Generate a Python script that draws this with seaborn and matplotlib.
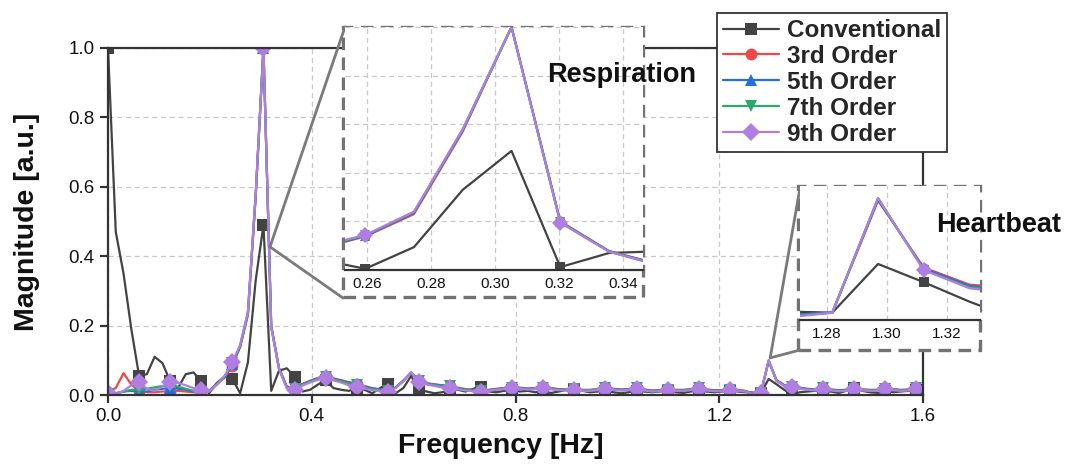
import numpy as np
import pandas as pd
import matplotlib
matplotlib.use("Agg")
import matplotlib.pyplot as plt
from matplotlib.patches import Rectangle, ConnectionPatch
import seaborn as sns

# ---------------------------------------------------------------------------
# Data
# ---------------------------------------------------------------------------

FREQ_STEP = 0.015259  # Hz per FFT bin
N_BINS = 106

conventional = [
    1.0, 0.47, 0.35, 0.19, 0.055, 0.06, 0.11, 0.092, 0.04, 0.02,
    0.06, 0.065, 0.04, 0.005, 0.035, 0.053, 0.046, 0.005, 0.094, 0.33,
    0.49, 0.012, 0.07, 0.077, 0.053, 0.01, 0.015, 0.03, 0.043, 0.02,
    0.015, 0.012, 0.02, 0.015, 0.005, 0.02, 0.032, 0.005, 0.02, 0.055,
    0.015, 0.01, 0.005, 0.008, 0.012, 0.015, 0.01, 0.018, 0.024, 0.01,
    0.008, 0.012, 0.015, 0.01, 0.012, 0.008, 0.01, 0.006, 0.01, 0.015,
    0.018, 0.012, 0.008, 0.01, 0.012, 0.008, 0.005, 0.008, 0.012, 0.01,
    0.008, 0.01, 0.012, 0.008, 0.006, 0.01, 0.012, 0.01, 0.008, 0.01,
    0.012, 0.01, 0.008, 0.007, 0.006, 0.046, 0.031, 0.015, 0.001, 0.008,
    0.01, 0.012, 0.008, 0.01, 0.006, 0.012, 0.02, 0.012, 0.008, 0.006,
    0.012, 0.008, 0.01, 0.012, 0.015, 0.012,
]
order3 = [
    0.01, 0.02, 0.063, 0.03, 0.012, 0.008, 0.008, 0.01, 0.01, 0.012,
    0.01, 0.008, 0.008, 0.012, 0.032, 0.05, 0.085, 0.138, 0.23, 0.57,
    1.0, 0.2, 0.078, 0.025, 0.018, 0.032, 0.041, 0.049, 0.054, 0.048,
    0.043, 0.037, 0.033, 0.026, 0.02, 0.016, 0.013, 0.022, 0.042, 0.064,
    0.04, 0.034, 0.031, 0.028, 0.027, 0.021, 0.017, 0.015, 0.014, 0.015,
    0.018, 0.02, 0.023, 0.021, 0.019, 0.02, 0.023, 0.02, 0.017, 0.016,
    0.018, 0.015, 0.015, 0.017, 0.022, 0.018, 0.016, 0.017, 0.021, 0.016,
    0.013, 0.014, 0.016, 0.015, 0.015, 0.017, 0.021, 0.016, 0.014, 0.014,
    0.017, 0.015, 0.012, 0.004, 0.006, 0.098, 0.043, 0.029, 0.026, 0.021,
    0.018, 0.016, 0.021, 0.016, 0.014, 0.015, 0.02, 0.016, 0.015, 0.015,
    0.02, 0.017, 0.015, 0.016, 0.021, 0.018,
]
order5 = [
    0.002, 0.005, 0.01, 0.012, 0.01, 0.01, 0.015, 0.018, 0.02, 0.018,
    0.015, 0.01, 0.008, 0.011, 0.031, 0.052, 0.088, 0.14, 0.235, 0.575,
    1.0, 0.198, 0.077, 0.023, 0.017, 0.031, 0.04, 0.048, 0.055, 0.047,
    0.041, 0.035, 0.031, 0.024, 0.019, 0.015, 0.012, 0.021, 0.041, 0.065,
    0.04, 0.033, 0.03, 0.027, 0.027, 0.02, 0.016, 0.014, 0.013, 0.014,
    0.017, 0.019, 0.022, 0.02, 0.018, 0.019, 0.022, 0.019, 0.016, 0.015,
    0.017, 0.014, 0.014, 0.016, 0.021, 0.017, 0.015, 0.016, 0.02, 0.015,
    0.012, 0.013, 0.015, 0.014, 0.014, 0.016, 0.02, 0.015, 0.013, 0.013,
    0.016, 0.014, 0.011, 0.004, 0.006, 0.099, 0.042, 0.028, 0.025, 0.02,
    0.017, 0.015, 0.02, 0.015, 0.013, 0.014, 0.019, 0.015, 0.014, 0.014,
    0.019, 0.016, 0.014, 0.015, 0.02, 0.017,
]
order7 = [
    0.003, 0.005, 0.01, 0.015, 0.015, 0.018, 0.022, 0.026, 0.027, 0.024,
    0.018, 0.012, 0.01, 0.01, 0.03, 0.054, 0.092, 0.142, 0.238, 0.578,
    1.0, 0.196, 0.076, 0.021, 0.016, 0.03, 0.039, 0.047, 0.053, 0.046,
    0.04, 0.033, 0.029, 0.022, 0.017, 0.014, 0.011, 0.021, 0.04, 0.065,
    0.039, 0.032, 0.029, 0.025, 0.025, 0.019, 0.015, 0.013, 0.012, 0.013,
    0.016, 0.018, 0.021, 0.019, 0.017, 0.018, 0.021, 0.018, 0.015, 0.014,
    0.016, 0.013, 0.013, 0.015, 0.02, 0.016, 0.014, 0.015, 0.019, 0.014,
    0.011, 0.012, 0.014, 0.013, 0.013, 0.015, 0.019, 0.014, 0.012, 0.012,
    0.015, 0.013, 0.011, 0.003, 0.006, 0.1, 0.041, 0.027, 0.024, 0.019,
    0.016, 0.014, 0.019, 0.014, 0.012, 0.013, 0.018, 0.014, 0.013, 0.013,
    0.018, 0.015, 0.013, 0.014, 0.019, 0.016,
]
order9 = [
    0.005, 0.002, 0.012, 0.028, 0.038, 0.018, 0.012, 0.025, 0.038, 0.035,
    0.028, 0.02, 0.013, 0.01, 0.03, 0.055, 0.095, 0.144, 0.24, 0.58,
    1.0, 0.195, 0.075, 0.02, 0.014, 0.027, 0.036, 0.044, 0.05, 0.042,
    0.036, 0.028, 0.022, 0.018, 0.014, 0.012, 0.01, 0.02, 0.04, 0.065,
    0.037, 0.03, 0.026, 0.022, 0.02, 0.016, 0.013, 0.011, 0.01, 0.012,
    0.015, 0.017, 0.019, 0.017, 0.016, 0.017, 0.019, 0.016, 0.014, 0.013,
    0.014, 0.012, 0.012, 0.014, 0.018, 0.015, 0.013, 0.014, 0.017, 0.013,
    0.01, 0.011, 0.013, 0.012, 0.012, 0.014, 0.017, 0.013, 0.011, 0.011,
    0.014, 0.012, 0.01, 0.002, 0.006, 0.1, 0.041, 0.026, 0.022, 0.018,
    0.015, 0.013, 0.017, 0.013, 0.011, 0.012, 0.016, 0.013, 0.012, 0.012,
    0.016, 0.014, 0.012, 0.013, 0.017, 0.015,
]

series_labels = ["Conventional", "3rd Order", "5th Order", "7th Order", "9th Order"]
series_values = [conventional, order3, order5, order7, order9]
series_colors = ["#434343", "#f04848", "#2170e0", "#2ca86a", "#b07ee2"]
series_markers = ["s", "o", "^", "v", "D"]
series_msize = [8.0, 8.5, 8.5, 8.5, 9.5]

freq = np.arange(N_BINS) * FREQ_STEP
df = pd.DataFrame({"freq": np.tile(freq, len(series_labels)),
                   "mag": np.concatenate(series_values),
                   "series": np.repeat(series_labels, N_BINS)})

# ---------------------------------------------------------------------------
# Style
# ---------------------------------------------------------------------------

sns.set_theme(style="white")
plt.rcParams["font.family"] = ["Liberation Sans", "DejaVu Sans"]
plt.rcParams["axes.linewidth"] = 1.6
plt.rcParams["axes.edgecolor"] = "#333333"

W, H = 1065, 469
fig = plt.figure(figsize=(W / 100, H / 100), dpi=100)


def px_box(x0, y0, x1, y1):
    return [x0 / W, 1 - y1 / H, (x1 - x0) / W, (y1 - y0) / H]


GRID = dict(color="#c8c8c8", linestyle=(0, (4, 3)), linewidth=0.9)


def draw_series(ax, markevery, ms_scale=1.0):
    for lab, col, mk, ms in zip(series_labels, series_colors, series_markers, series_msize):
        sub = df[df["series"] == lab]
        sns.lineplot(data=sub, x="freq", y="mag", ax=ax, color=col, marker=mk,
                     markersize=ms * ms_scale, markeredgewidth=0,
                     markevery=markevery, linewidth=1.6, label=lab, legend=False)


# ---------------------------------------------------------------------------
# Main spectrum
# ---------------------------------------------------------------------------

ax = fig.add_axes(px_box(108, 48, 923, 395))
draw_series(ax, markevery=4)
ax.set_xlim(0, 1.6)
ax.set_ylim(0, 1.0)
ax.set_xticks([0, 0.4, 0.8, 1.2, 1.6])
ax.set_yticks([0, 0.2, 0.4, 0.6, 0.8, 1.0])
ax.xaxis.set_major_formatter(plt.FormatStrFormatter("%.1f"))
ax.yaxis.set_major_formatter(plt.FormatStrFormatter("%.1f"))
ax.tick_params(axis="both", which="major", direction="out", length=6, width=1.6,
               labelsize=13.5, color="#333333", labelcolor="#111111",
               bottom=True, left=True)
ax.grid(True, **GRID)
ax.set_xlabel("Frequency [Hz]", fontsize=20.5, fontweight="bold", color="#111111")
ax.set_ylabel("Magnitude [a.u.]", fontsize=20.5, fontweight="bold", color="#111111")
ax.xaxis.set_label_coords(0.482, -0.11)
ax.yaxis.set_label_coords(-0.083, 0.5)
for s in ax.spines.values():
    s.set_visible(True)

leg = ax.legend(loc="upper right", bbox_to_anchor=(947 / W, 1 - 13 / H),
                bbox_transform=fig.transFigure, fontsize=17.5, frameon=True,
                fancybox=False, framealpha=1, edgecolor="#333333",
                handlelength=2.3, handletextpad=0.3, labelspacing=0.12,
                borderpad=0.25, borderaxespad=0)
leg.get_frame().set_linewidth(1.3)
for t in leg.get_texts():
    t.set_fontweight("bold")

# ---------------------------------------------------------------------------
# Zoom insets
# ---------------------------------------------------------------------------

BOX = dict(facecolor="white", edgecolor="#727272", linewidth=2.4,
           linestyle=(0, (3.8, 2.2)), transform=fig.transFigure, zorder=1.5)
CONN = dict(color="#7a7a7a", linewidth=2.0, zorder=2.5)

# respiration
fig.add_artist(Rectangle((343 / W, 1 - 297 / H), 300 / W, 270 / H, **BOX))
ax_r = fig.add_axes(px_box(345, 27, 643, 270))
ax_r.set_zorder(3)
draw_series(ax_r, markevery=[17, 21], ms_scale=0.85)
ax_r.set_xlim(0.2531, 0.3463)
ax_r.set_ylim(0, 1.0)
ax_r.set_xticks([0.26, 0.28, 0.30, 0.32, 0.34])
ax_r.xaxis.set_major_formatter(plt.FormatStrFormatter("%.2f"))
ax_r.set_yticks([0, 0.2, 0.4, 0.6, 0.8, 1.0])
ax_r.tick_params(axis="x", direction="out", length=3, width=1.2, labelsize=11, pad=2,
                 labelcolor="#111111")
ax_r.tick_params(axis="y", left=False, labelleft=False)
ax_r.grid(True, **GRID)
ax_r.set_xlabel("")
ax_r.set_ylabel("")
for k in ["top", "left", "right"]:
    ax_r.spines[k].set_visible(False)
ax_r.set_facecolor("white")
fig.text(547 / W, 1 - 75 / H, "Respiration", fontsize=19.5, fontweight="bold",
         ha="left", va="center", zorder=4, color="#111111")

peak_r = (0.318, 0.427)
for corner in [(345 / W, 1 - 27 / H), (343 / W, 1 - 298 / H)]:
    fig.add_artist(ConnectionPatch(xyA=peak_r, coordsA=ax.transData,
                                   xyB=corner, coordsB=fig.transFigure, **CONN))

# heartbeat
fig.add_artist(Rectangle((798 / W, 1 - 350 / H), 182 / W, 164 / H, **BOX))
ax_h = fig.add_axes(px_box(800, 186, 980, 320))
ax_h.set_zorder(3)
draw_series(ax_h, markevery=[86], ms_scale=0.85)
ax_h.set_xlim(1.271, 1.331)
ax_h.set_ylim(0, 0.11)
ax_h.set_xticks([1.28, 1.30, 1.32])
ax_h.xaxis.set_major_formatter(plt.FormatStrFormatter("%.2f"))
ax_h.set_yticks([])
ax_h.tick_params(axis="x", direction="out", length=3, width=1.2, labelsize=11, pad=2,
                 labelcolor="#111111")
ax_h.grid(True, axis="x", **GRID)
ax_h.set_xlabel("")
ax_h.set_ylabel("")
for k in ["top", "left", "right"]:
    ax_h.spines[k].set_visible(False)
ax_h.set_facecolor("white")
fig.text(936 / W, 1 - 225 / H, "Heartbeat", fontsize=19.5, fontweight="bold",
         ha="left", va="center", zorder=4, color="#111111")

peak_h = (1.30, 0.107)
for corner in [(800 / W, 1 - 188 / H), (800 / W, 1 - 350 / H)]:
    fig.add_artist(ConnectionPatch(xyA=peak_h, coordsA=ax.transData,
                                   xyB=corner, coordsB=fig.transFigure, **CONN))

fig.savefig("out.png", dpi=100)
